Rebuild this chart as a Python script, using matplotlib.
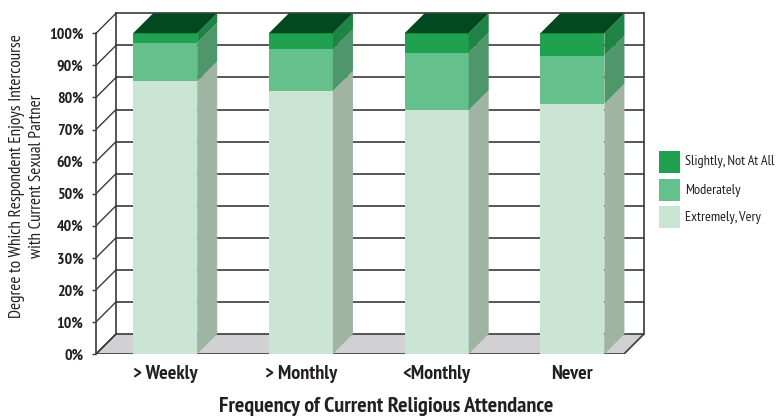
import numpy as np
import matplotlib.pyplot as plt
from matplotlib.patches import Polygon, Rectangle

plt.rcParams['font.family'] = ['PT Sans Narrow', 'Roboto Condensed', 'DejaVu Sans']

categories = ["> Weekly", "> Monthly", "<Monthly", "Never"]
extremely = [85, 82, 76, 78]
moderately = [12, 13, 18, 15]
slightly = [3, 5, 6, 7]
series_names = ["Extremely, Very", "Moderately", "Slightly, Not At All"]

front_cols = ["#cbe5d5", "#64c18c", "#1fa14f"]
side_cols = ["#a0b4a4", "#4f976b", "#1e8344"]
top_col = "#03491f"
floor_col = "#d1d1d3"
line_col = "#3a3a3a"
text_col = "#231f20"

# geometry (pixel based, converted to data units)
px_x = 135.5          # pixels per category
px_y = 3.207          # pixels per percent
dx = 20 / px_x        # depth offset in x units
dy = 20 / px_y        # depth offset in y units
bw = 64 / px_x        # bar width
x_left = -69 / px_x
x_right = 458 / px_x

fig = plt.figure(figsize=(7.77, 4.18), dpi=100)
ax = fig.add_axes([96 / 777, 64 / 418, (655 - 96) / 777, 344 / 418])
ax.set_xlim(x_left, 489 / px_x)
ax.set_ylim(0, 344 / px_y)

# floor
floor = Polygon([(x_left, 0), (x_right, 0), (x_right + dx, dy), (x_left + dx, dy)],
                closed=True, facecolor=floor_col, edgecolor=line_col, lw=1.2, zorder=1)
ax.add_patch(floor)

# back wall grid and left wall diagonals
for v in range(10, 101, 10):
    ax.plot([x_left + dx, x_right + dx], [v + dy, v + dy], color=line_col, lw=1.2, zorder=1)
for v in range(0, 101, 10):
    ax.plot([x_left, x_left + dx], [v, v + dy], color=line_col, lw=1.0, zorder=1)
ax.plot([x_left + dx, x_left + dx], [dy, 100 + dy], color=line_col, lw=1.2, zorder=1)
ax.plot([x_right + dx, x_right + dx], [dy, 100 + dy], color=line_col, lw=1.2, zorder=1)

# 3D stacked bars
stack = np.array([extremely, moderately, slightly], dtype=float)
for i in range(len(categories)):
    bottom = 0.0
    x0 = i - bw / 2
    x1 = i + bw / 2
    for s in range(3):
        h = stack[s, i]
        top = bottom + h
        ax.add_patch(Rectangle((x0, bottom), bw, h, facecolor=front_cols[s],
                               edgecolor='none', zorder=3))
        ax.add_patch(Polygon([(x1, bottom), (x1 + dx, bottom + dy), (x1 + dx, top + dy), (x1, top)],
                             closed=True, facecolor=side_cols[s], edgecolor='none', zorder=3))
        bottom = top
    ax.add_patch(Polygon([(x0, bottom), (x1, bottom), (x1 + dx, bottom + dy), (x0 + dx, bottom + dy)],
                         closed=True, facecolor=top_col, edgecolor='none', zorder=3))

# axes styling
for k in ['top', 'right', 'bottom']:
    ax.spines[k].set_visible(False)
ax.spines['left'].set_bounds(0, 100)
ax.spines['left'].set_color(line_col)
ax.spines['left'].set_linewidth(1.2)
ax.set_yticks(range(0, 101, 10))
ax.set_yticklabels([f"{v}%" for v in range(0, 101, 10)], fontsize=11.5,
                   fontweight='bold', color=text_col)
ax.tick_params(axis='y', length=3, width=1.0, color=line_col, pad=6)
ax.set_xticks(range(len(categories)))
ax.set_xticklabels(categories, fontsize=14.5, fontweight='bold', color=text_col)
ax.tick_params(axis='x', length=0, pad=8)
ax.patch.set_visible(False)

fig.text(386 / 777, 1 - 407 / 418, "Frequency of Current Religious Attendance",
         ha='center', va='center', fontsize=16, fontweight='bold', color=text_col)
fig.text(27 / 777, 1 - 176 / 418,
         "Degree to Which Respondent Enjoys Intercourse\nwith Current Sexual Partner",
         ha='center', va='center', rotation=90, fontsize=12.3, color=text_col,
         linespacing=1.3, multialignment='center')

# legend
leg_y = [162, 190, 217]
for name, col, yy in zip(series_names[::-1], front_cols[::-1], leg_y):
    fig.patches.append(Rectangle((659 / 777, 1 - (yy + 11) / 418), 21 / 777, 22 / 418,
                                 transform=fig.transFigure, facecolor=col, edgecolor='none'))
    fig.text(685 / 777, 1 - yy / 418, name, ha='left', va='center', fontsize=10.3, color=text_col)

fig.savefig("out.png", dpi=100)
